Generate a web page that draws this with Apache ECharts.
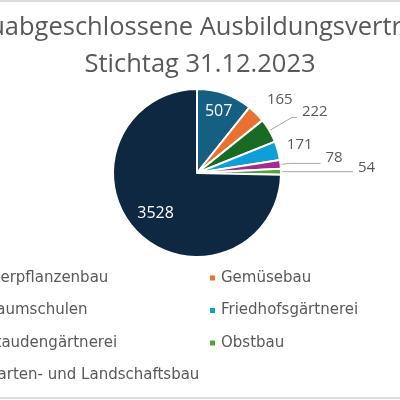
<!DOCTYPE html>
<html>
<head>
<meta charset="utf-8">
<script src="https://cdn.jsdelivr.net/npm/echarts@6/dist/echarts.min.js"></script>
<style>
html,body{margin:0;padding:0;background:#fff;overflow:hidden;}
#wrap{position:relative;width:400px;height:400px;}
#chart{position:absolute;left:0;top:0;width:400px;height:400px;}
#topline{position:absolute;left:0;top:0;width:400px;height:2px;background:#dcdcdc;}
#botline{position:absolute;left:0;top:397px;width:400px;height:2px;background:#dcdcdc;}
</style>
</head>
<body>
<div id="wrap"><div id="chart"></div><div id="topline"></div><div id="botline"></div></div>
<script>
const titleText = 'Neuabgeschlossene Ausbildungsverträge\nStichtag 31.12.2023';
const categories = ['Zierpflanzenbau','Gemüsebau','Baumschulen','Friedhofsgärtnerei','Staudengärtnerei','Obstbau','Garten- und Landschaftsbau'];
const values = [507, 165, 222, 171, 78, 54, 3528];
const colors = ['#156082','#E97132','#196B24','#0F9ED5','#A02B93','#4EA72E','#0E2841'];
const legendLeft = ['Zierpflanzenbau','Baumschulen','Staudengärtnerei','Garten- und Landschaftsbau'];
const legendRight = ['Gemüsebau','Friedhofsgärtnerei','Obstbau'];

const font = 'Open Sans';
const legendFont = 'DejaVu Sans';
const grey = '#595959';
const CX = 197, CY = 173, R = 84;
// per-slice label settings (styling only)
const labelCfg = [
  {pos:'inside', rr:0.78},
  {pos:'outside', len:8, len2:0, line:false, dy:-8},
  {pos:'outside', len:26, len2:5, line:true, dy:-6},
  {pos:'outside', len:4, len2:0, line:false, dy:-5},
  {pos:'outside', len:10, len2:30, line:true, dy:-6},
  {pos:'outside', len:4, len2:68, line:true, dy:-4},
  {pos:'inside', rr:0.69}
];

// mid angles of slices (radians, math convention) for inside label placement
const total = values.reduce((a,b)=>a+b,0);
const midAngles = [];
(function(){ let acc = 0; values.forEach(v=>{ const mid = acc + v/2; midAngles.push((90 - mid/total*360)*Math.PI/180); acc += v; }); })();

const data = categories.map((c,i)=>{
  const cfg = labelCfg[i];
  const item = {name:c, value:values[i], itemStyle:{color:colors[i]}};
  if(cfg.pos==='inside'){
    item.label = {position:'inside', color:'#fff', fontSize:16};
    item.labelLine = {show:false};
  } else {
    item.label = {position:'outside', color:grey, fontSize:15, distance:2};
    item.labelLine = {show:cfg.line, length:cfg.len, length2:cfg.len2, lineStyle:{color:'#a6a6a6', width:1}};
  }
  return item;
});

const chart = echarts.init(document.getElementById('chart'), null, {renderer:'canvas'});
const legendCommon = {
  orient:'vertical', itemWidth:7, itemHeight:7, itemGap:17.5, icon:'rect', padding:0,
  textStyle:{color:grey, fontSize:15, fontFamily:legendFont}, top:270.5, selectedMode:false
};
chart.setOption({
  animation:false,
  textStyle:{fontFamily:font},
  title:{text:titleText, left:'center', top:4,
    textStyle:{color:grey, fontSize:25.5, fontWeight:'normal', fontFamily:font, lineHeight:37}},
  legend:[
    Object.assign({data:legendLeft, left:-27}, legendCommon),
    Object.assign({data:legendRight, left:208}, legendCommon)
  ],
  series:[{
    type:'pie',
    center:[CX,CY],
    radius:[0,R],
    startAngle:90,
    clockwise:true,
    avoidLabelOverlap:false,
    itemStyle:{borderColor:'#fff', borderWidth:2},
    label:{show:true, formatter:'{c}', fontFamily:font},
    emphasis:{disabled:true},
    labelLayout:function(params){
      const cfg = labelCfg[params.dataIndex];
      if(cfg.pos!=='inside') return {dy: cfg.dy};
      const a = midAngles[params.dataIndex];
      const r = R*cfg.rr;
      return {x: CX + r*Math.cos(a), y: CY - r*Math.sin(a), align:'center', verticalAlign:'middle'};
    },
    data:data
  }]
});
</script>
</body>
</html>
